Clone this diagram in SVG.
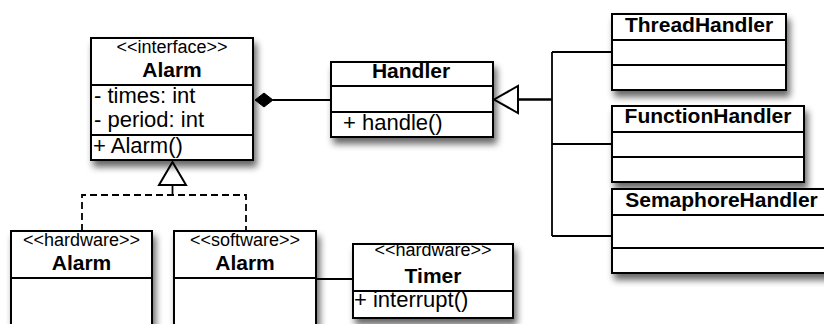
<svg xmlns="http://www.w3.org/2000/svg" width="824" height="324" viewBox="0 0 824 324">
  <defs>
    <filter id="shadow" x="-15%" y="-15%" width="140%" height="150%">
      <feGaussianBlur in="SourceAlpha" stdDeviation="3.5"/>
      <feOffset dx="3" dy="6" result="blur"/>
      <feComponentTransfer>
        <feFuncA type="linear" slope="0.6"/>
      </feComponentTransfer>
      <feMerge>
        <feMergeNode/>
        <feMergeNode in="SourceGraphic"/>
      </feMerge>
    </filter>
  </defs>
  <style>
    .box { fill: #fff; stroke: #000; stroke-width: 2; }
    .div { stroke: #000; stroke-width: 2; fill: none; }
    .st { font-family: "Liberation Sans", Arial, sans-serif; font-size: 18px; text-anchor: middle; fill: #000; }
    .name { font-family: "Liberation Sans", Arial, sans-serif; font-size: 21px; font-weight: bold; text-anchor: middle; fill: #000; }
    .mem { font-family: "Liberation Sans", Arial, sans-serif; font-size: 22px; fill: #000; }
    .conn { stroke: #000; stroke-width: 1.8; fill: none; }
    .dash { stroke-dasharray: 7 4; }
    .head { fill: #fff; stroke: #000; stroke-width: 2; }
  </style>

  <rect width="824" height="324" fill="#fff"/>

  <!-- connectors -->
  <g id="connectors">
    <!-- composition: Alarm <>— Handler -->
    <line class="conn" x1="273" y1="100" x2="331" y2="100"/>
    <polygon points="255,100 264,93 273,100 264,107" fill="#000" stroke="#000" stroke-width="1"/>
    <!-- realization: hardware/software Alarm -> interface Alarm -->
    <polyline class="conn dash" points="82,231 82,195 246,195 246,231"/>
    <line class="conn" x1="172.5" y1="185" x2="172.5" y2="195"/>
    <polygon class="head" points="172.5,162 186,185 159,185"/>
    <!-- generalization: concrete handlers -> Handler -->
    <line x1="518" y1="99.5" x2="552" y2="99.5" stroke="#000" stroke-width="2.4"/>
    <line class="conn" x1="552" y1="52" x2="552" y2="236"/>
    <line class="conn" x1="552" y1="52" x2="612" y2="52"/>
    <line class="conn" x1="552" y1="144" x2="612" y2="144"/>
    <line class="conn" x1="552" y1="236" x2="612" y2="236"/>
    <polygon class="head" points="494,99.5 518,86 518,113"/>
    <!-- association: software Alarm — Timer -->
    <line class="conn" x1="316" y1="279" x2="353" y2="279"/>
  </g>

  <!-- interface Alarm -->
  <g id="alarm-interface">
    <rect class="box" x="91" y="38" width="162" height="122" filter="url(#shadow)"/>
    <line class="div" x1="91" y1="85" x2="253" y2="85"/>
    <line class="div" x1="91" y1="135" x2="253" y2="135"/>
    <text class="st" x="172" y="53">&lt;&lt;interface&gt;&gt;</text>
    <text class="name" x="172" y="77">Alarm</text>
    <text class="mem" x="94" y="103">- times: int</text>
    <text class="mem" x="94" y="127">- period: int</text>
    <text class="mem" x="93" y="153">+ Alarm()</text>
  </g>

  <!-- Handler -->
  <g id="handler">
    <rect class="box" x="331" y="62" width="162" height="75" filter="url(#shadow)"/>
    <line class="div" x1="331" y1="86" x2="493" y2="86"/>
    <line class="div" x1="331" y1="112" x2="493" y2="112"/>
    <text class="name" x="411" y="78">Handler</text>
    <text class="mem" x="343" y="130">+ handle()</text>
  </g>

  <!-- ThreadHandler -->
  <g id="thread-handler">
    <rect class="box" x="612" y="14" width="174" height="76" filter="url(#shadow)"/>
    <line class="div" x1="612" y1="40" x2="786" y2="40"/>
    <line class="div" x1="612" y1="65" x2="786" y2="65"/>
    <text class="name" x="699" y="32">ThreadHandler</text>
  </g>

  <!-- FunctionHandler -->
  <g id="function-handler">
    <rect class="box" x="612" y="106" width="192" height="76" filter="url(#shadow)"/>
    <line class="div" x1="612" y1="132" x2="804" y2="132"/>
    <line class="div" x1="612" y1="157" x2="804" y2="157"/>
    <text class="name" x="708" y="123">FunctionHandler</text>
  </g>

  <!-- SemaphoreHandler -->
  <g id="semaphore-handler">
    <rect class="box" x="612" y="189" width="219" height="84" filter="url(#shadow)"/>
    <line class="div" x1="612" y1="215" x2="831" y2="215"/>
    <line class="div" x1="612" y1="248" x2="831" y2="248"/>
    <text class="name" x="721.5" y="207">SemaphoreHandler</text>
  </g>

  <!-- hardware Alarm -->
  <g id="alarm-hardware">
    <rect class="box" x="11" y="231" width="141" height="110" filter="url(#shadow)"/>
    <line class="div" x1="11" y1="278" x2="152" y2="278"/>
    <text class="st" x="81.5" y="246">&lt;&lt;hardware&gt;&gt;</text>
    <text class="name" x="81.5" y="270">Alarm</text>
  </g>

  <!-- software Alarm -->
  <g id="alarm-software">
    <rect class="box" x="174" y="231" width="142" height="110" filter="url(#shadow)"/>
    <line class="div" x1="174" y1="278" x2="316" y2="278"/>
    <text class="st" x="245" y="246">&lt;&lt;software&gt;&gt;</text>
    <text class="name" x="245" y="270">Alarm</text>
  </g>

  <!-- hardware Timer -->
  <g id="timer">
    <rect class="box" x="353" y="244" width="160" height="74" filter="url(#shadow)"/>
    <line class="div" x1="353" y1="291" x2="513" y2="291"/>
    <text class="st" x="433" y="256">&lt;&lt;hardware&gt;&gt;</text>
    <text class="name" x="433" y="283">Timer</text>
    <text class="mem" x="354" y="307">+ interrupt()</text>
  </g>
</svg>
